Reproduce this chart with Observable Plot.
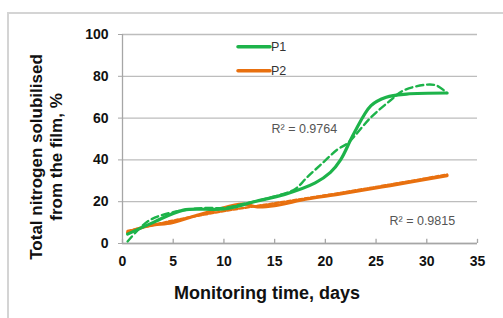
<!DOCTYPE html>
<html>
<head>
<meta charset="utf-8">
<script src="https://cdn.jsdelivr.net/npm/d3@7"></script>
<script src="https://cdn.jsdelivr.net/npm/@observablehq/plot@0.6"></script>
<style>
  html, body { margin: 0; padding: 0; background: #fff; }
  #wrap { position: relative; width: 503px; height: 318px; overflow: hidden; }
  #frame { position: absolute; left: 7px; top: 12px; right: -10px; bottom: -10px;
           border-left: 2px solid #d4d4d4; border-top: 2px solid #d4d4d4; }
  #chart { position: absolute; left: 0; top: 0; }
</style>
</head>
<body>
<div id="wrap"><div id="frame"></div><div id="chart"></div></div>
<script>
// ---- data ----
const p1Days   = [0.5, 3, 6, 10, 13, 16, 19, 20.5, 21.5, 22.8, 24.5, 26, 28, 32];
const p1Values = [4.5, 10, 16, 16.5, 20, 23.5, 29, 34, 40, 52.5, 66, 70, 71.5, 72];

const p1TrendDays   = [0.5, 2.6, 5, 8, 10, 12, 15, 17, 18.2, 19.5, 21.2, 22.2, 24.5, 26.4, 27.7, 30, 31, 32];
const p1TrendValues = [1, 10.9, 15, 17, 17, 19, 22.5, 26, 31.7, 37.5, 45, 48, 60.4, 68.4, 73.2, 76, 75.5, 72];

const p2Days   = [0.5, 2.6, 4.9, 7.2, 9.2, 11.8, 13.3, 15, 18.2, 21.5, 26.4, 32];
const p2Values = [5.3, 8.5, 10, 13.3, 16, 18.9, 17.5, 18.1, 21.3, 23.7, 27.7, 32.5];

const p2TrendDays   = [0.5, 5, 10, 15, 20, 25, 32];
const p2TrendValues = [5.5, 10.5, 15, 18.8, 22.6, 26.6, 32.5];

const xTicks = [0, 5, 10, 15, 20, 25, 30, 35];
const yTicks = [0, 20, 40, 60, 80, 100];

const seriesNames = ["P1", "P2"];
const r2Texts = ["R\u00B2 = 0.9764", "R\u00B2 = 0.9815"];
const xTitle = "Monitoring time, days";
const yTitle = "Total nitrogen solubilised\nfrom the film, %";

const green = "#1db34a";
const orange = "#e8700f";

const toRows = (xs, ys) => xs.map((d, i) => ({day: d, value: ys[i]}));
const p1 = toRows(p1Days, p1Values);
const p1t = toRows(p1TrendDays, p1TrendValues);
const p2 = toRows(p2Days, p2Values);
const p2t = toRows(p2TrendDays, p2TrendValues);

const font = "'Liberation Sans', Arial, sans-serif";

const chart = Plot.plot({
  width: 503,
  height: 318,
  marginLeft: 122,
  marginRight: 26,
  marginTop: 34,
  marginBottom: 75,
  style: {fontFamily: font, background: "transparent", overflow: "visible"},
  x: {domain: [0, 35]},
  y: {domain: [0, 100]},
  marks: [
    Plot.gridY(yTicks, {stroke: "#bdbdbd", strokeOpacity: 1, strokeWidth: 1.3}),
    Plot.ruleX([0], {stroke: "#a6a6a6", strokeWidth: 1.3}),
    Plot.ruleY([0], {stroke: "#a6a6a6", strokeWidth: 1.3}),
    Plot.ruleX(xTicks, {y1: 0, y2: 2, stroke: "#a6a6a6", strokeWidth: 1.3}),
    Plot.axisY(yTicks, {tickSize: 4, tickPadding: 10, stroke: "#a6a6a6", fontSize: 14, fontWeight: "bold", fill: "#111", label: null}),
    Plot.axisX(xTicks, {tickSize: 0, tickPadding: 13, fontSize: 14, fontWeight: "bold", fill: "#111", label: null}),
    Plot.line(p2, {x: "day", y: "value", curve: "catmull-rom", stroke: orange, strokeWidth: 3.2}),
    Plot.line(p2t, {x: "day", y: "value", curve: "catmull-rom", stroke: orange, strokeWidth: 2.4, strokeDasharray: "4,2", dy: -1}),
    Plot.line(p1, {x: "day", y: "value", curve: "catmull-rom", stroke: green, strokeWidth: 3.2}),
    Plot.line(p1t, {x: "day", y: "value", curve: "catmull-rom", stroke: green, strokeWidth: 2.4, strokeDasharray: "7,4"}),
    Plot.text([r2Texts[0]], {frameAnchor: "top-left", dx: 149, dy: 94, textAnchor: "start", lineAnchor: "middle", fill: "#555", fontSize: 12.5}),
    Plot.text([r2Texts[1]], {frameAnchor: "top-left", dx: 267, dy: 186, textAnchor: "start", lineAnchor: "middle", fill: "#555", fontSize: 12.5}),
    Plot.text([xTitle], {frameAnchor: "bottom", dx: -33, dy: 50, textAnchor: "middle", lineAnchor: "middle", fontSize: 18, fontWeight: "bold", fill: "#111"}),
    Plot.text([yTitle], {frameAnchor: "left", rotate: -90, dx: -77, dy: 18, textAnchor: "middle", lineAnchor: "middle", lineHeight: 1.17, fontSize: 17, fontWeight: "bold", fill: "#111"})
  ]
});

// legend
const svg = d3.select(chart);
const legend = svg.append("g").attr("font-family", font).attr("font-size", 12.5)
  .attr("fill", "#333").attr("text-anchor", "start");
[[green, 46.7], [orange, 70.7]].forEach(([c, y], i) => {
  legend.append("line").attr("x1", 238).attr("x2", 270).attr("y1", y).attr("y2", y)
    .attr("stroke", c).attr("stroke-width", 3.5).attr("stroke-linecap", "round");
  legend.append("text").attr("x", 271).attr("y", y).attr("dy", "0.35em").text(seriesNames[i]);
});

document.getElementById("chart").appendChild(chart);
</script>
</body>
</html>
